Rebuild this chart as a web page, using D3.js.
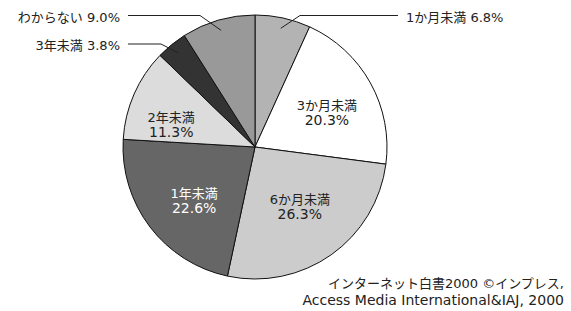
<!DOCTYPE html>
<html><head><meta charset="utf-8">
<script src="https://cdn.jsdelivr.net/npm/d3@7"></script>
<style>body{margin:0;background:#fff}svg{display:block}text{font-family:"DejaVu Sans","Noto Sans CJK JP",sans-serif}</style>
</head><body><svg id="c" width="571" height="311"></svg>
<script>
const categories = ["1か月未満","3か月未満","6か月未満","1年未満","2年未満","3年未満","わからない"];
const values = [6.8,20.3,26.3,22.6,11.3,3.8,9.0];
const valueLabels = ["6.8%","20.3%","26.3%","22.6%","11.3%","3.8%","9.0%"];
const source = ["インターネット白書2000 ©インプレス,","Access Media International&IAJ, 2000"];

const colors = ["#b3b3b3","#ffffff","#cccccc","#666666","#dcdcdc","#333333","#999999"];
const cx = 255, cy = 147, R = 132;
// inside label placement: radius and angular offset (deg) from slice middle
const inside = {1:{r:80,ang:3},2:{r:74,ang:-2},3:{r:81,ang:-4},4:{r:87,ang:-8}};
const outside = {
  0:{elbow:[300,15.5], end:[398,15.5], anchor:"start", tx:406},
  6:{elbow:[200,15.5], end:[128,15.5], anchor:"end", tx:120},
  5:{elbow:[161,44], end:[128,44], anchor:"end", tx:120}
};
const FS = 13;

const svg = d3.select("#c");
const g = svg.append("g").attr("transform",`translate(${cx},${cy})`);
const pie = d3.pie().sort(null).value(d=>d);
const arcs = pie(values);
const arc = d3.arc().innerRadius(0).outerRadius(R);

g.selectAll("path").data(arcs).join("path")
  .attr("d",arc).attr("fill",(d,i)=>colors[i])
  .attr("stroke","#111").attr("stroke-width",1).attr("stroke-linejoin","round");

arcs.forEach((d,i)=>{
  const mid=(d.startAngle+d.endAngle)/2;
  if(inside[i]){
    const a = mid + inside[i].ang*Math.PI/180, r=inside[i].r;
    const x=r*Math.sin(a), y=-r*Math.cos(a);
    const fill = i===3?"#fff":"#222";
    g.append("text").attr("x",x).attr("y",y-2).attr("text-anchor","middle")
      .attr("font-size",FS).attr("fill",fill).text(categories[i]);
    g.append("text").attr("x",x).attr("y",y+13).attr("text-anchor","middle")
      .attr("font-size",14).attr("fill",fill).text(valueLabels[i]);
  }
  if(outside[i]){
    const o=outside[i], r=R*0.92;
    const p0=[cx+r*Math.sin(mid), cy-r*Math.cos(mid)];
    svg.append("polyline").attr("points",[p0,o.elbow,o.end].map(p=>p.join(",")).join(" "))
      .attr("fill","none").attr("stroke","#222").attr("stroke-width",1);
    svg.append("text").attr("x",o.tx).attr("y",o.end[1]+6).attr("text-anchor",o.anchor)
      .attr("font-size",FS).attr("fill","#222").text(categories[i]+" "+valueLabels[i]);
  }
});

source.forEach((s,i)=>{
  svg.append("text").attr("x",564).attr("y",288+i*17).attr("text-anchor","end")
    .attr("font-size",i===0?13:14).attr("fill","#222").text(s);
});
</script></body></html>
